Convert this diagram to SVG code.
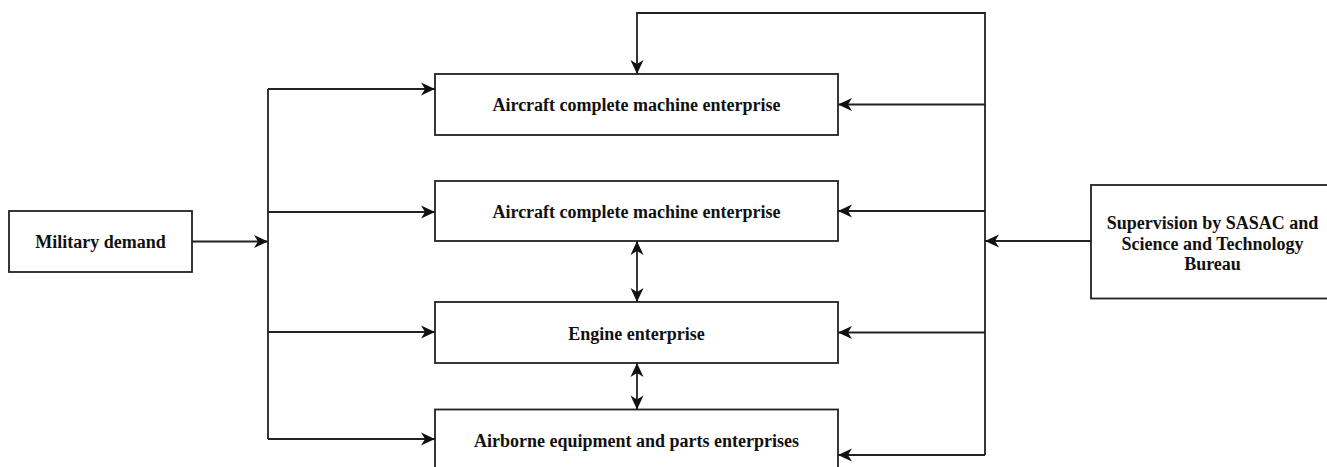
<svg xmlns="http://www.w3.org/2000/svg" width="1327" height="467" viewBox="0 0 1327 467">
  <style>
    .box { fill: #ffffff; stroke: #222222; stroke-width: 1.8; }
    .lbl { font-family: "Liberation Serif", "Times New Roman", serif; font-weight: bold; font-size: 18px; fill: #111111; text-anchor: middle; }
    .conn { fill: none; stroke: #222222; stroke-width: 1.8; }
  </style>
  <defs>
    <marker id="arr" viewBox="-15 -8 15 16" refX="0" refY="0" markerWidth="15" markerHeight="16" markerUnits="userSpaceOnUse" orient="auto-start-reverse">
      <path d="M0,0 L-14,-6.5 L-10,0 L-14,6.5 Z" fill="#111111"/>
    </marker>
  </defs>
  <rect width="1327" height="467" fill="#ffffff"/>

  <g id="military">
    <rect class="box" x="9" y="211" width="183" height="61"/>
    <text class="lbl" x="100.5" y="248">Military demand</text>
  </g>

  <g id="aircraft1">
    <rect class="box" x="435" y="74" width="403" height="61"/>
    <text class="lbl" x="636.5" y="111">Aircraft complete machine enterprise</text>
  </g>

  <g id="aircraft2">
    <rect class="box" x="435" y="181" width="403" height="60"/>
    <text class="lbl" x="636.5" y="217.5">Aircraft complete machine enterprise</text>
  </g>

  <g id="engine">
    <rect class="box" x="435" y="302" width="403" height="61"/>
    <text class="lbl" x="636.5" y="339.5">Engine enterprise</text>
  </g>

  <g id="airborne">
    <rect class="box" x="435" y="409.5" width="403" height="62"/>
    <text class="lbl" x="636.5" y="447">Airborne equipment and parts enterprises</text>
  </g>

  <g id="supervision">
    <rect class="box" x="1091" y="185" width="243" height="113.5"/>
    <text class="lbl" x="1212.5" y="229">Supervision by SASAC and</text>
    <text class="lbl" x="1212.5" y="249.5">Science and Technology</text>
    <text class="lbl" x="1212.5" y="270">Bureau</text>
  </g>

  <g id="connectors">
    <path class="conn" d="M192,241.5 L268,241.5" marker-end="url(#arr)"/>
    <path class="conn" d="M268,89 L268,439"/>
    <path class="conn" d="M268,89 L435,89" marker-end="url(#arr)"/>
    <path class="conn" d="M268,212 L435,212" marker-end="url(#arr)"/>
    <path class="conn" d="M268,332 L435,332" marker-end="url(#arr)"/>
    <path class="conn" d="M268,439 L435,439" marker-end="url(#arr)"/>

    <path class="conn" d="M985,455 L985,13 L637,13 L637,74" marker-end="url(#arr)"/>
    <path class="conn" d="M985,104.5 L838,104.5" marker-end="url(#arr)"/>
    <path class="conn" d="M985,211 L838,211" marker-end="url(#arr)"/>
    <path class="conn" d="M985,332.5 L838,332.5" marker-end="url(#arr)"/>
    <path class="conn" d="M985,455 L838,455" marker-end="url(#arr)"/>
    <path class="conn" d="M1091,241 L985,241" marker-end="url(#arr)"/>

    <path class="conn" d="M637,241 L637,302" marker-start="url(#arr)" marker-end="url(#arr)"/>
    <path class="conn" d="M637,363 L637,409.5" marker-start="url(#arr)" marker-end="url(#arr)"/>
  </g>
</svg>
